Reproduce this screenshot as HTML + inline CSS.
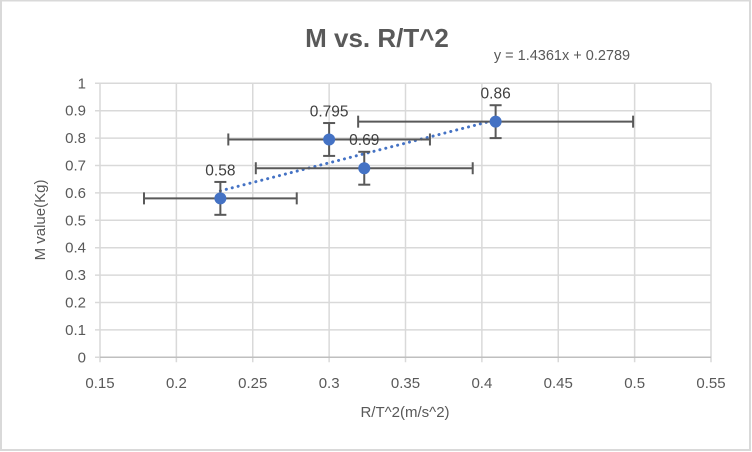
<!DOCTYPE html>
<html><head><meta charset="utf-8"><style>
body{margin:0;background:#fff}
svg{display:block;font-family:"Liberation Sans",sans-serif}
</style></head><body>
<svg id="chart" width="752" height="452" viewBox="0 0 752 452">
<rect x="1" y="0.5" width="749" height="449.5" fill="#fff" stroke="#d9d9d9" stroke-width="2"/>
<g id="grid"></g>
<g id="axes"></g>
<g id="marks"></g>
<text x="377" y="47" text-anchor="middle" font-size="26" font-weight="bold" fill="#595959">M vs. R/T^2</text>
<text x="562" y="60" text-anchor="middle" font-size="14.5" fill="#595959">y = 1.4361x + 0.2789</text>
<text transform="translate(45,220) rotate(-90)" text-anchor="middle" font-size="15" fill="#595959">M value(Kg)</text>
<text x="405" y="417" text-anchor="middle" font-size="15" fill="#595959">R/T^2(m/s^2)</text>
</svg>
<script>
const xVals=[0.2288,0.300,0.323,0.409];
const yVals=[0.58,0.795,0.69,0.86];
const xErr=[0.05,0.066,0.071,0.09];
const yErr=[0.06,0.06,0.06,0.06];
const labels=["0.58","0.795","0.69","0.86"];
const xTicks=[0.15,0.2,0.25,0.3,0.35,0.4,0.45,0.5,0.55];
const yTicks=[0,0.1,0.2,0.3,0.4,0.5,0.6,0.7,0.8,0.9,1];
const slope=1.4361, intercept=0.2789;
const X0=100,X1=711,Y0=357.3,Y1=83.3;
const sx=v=>X0+(v-0.15)/0.4*(X1-X0);
const sy=v=>Y0-v*(Y0-Y1);
const NS="http://www.w3.org/2000/svg";
function mk(parent,tag,attrs){const e=document.createElementNS(NS,tag);for(const k in attrs)e.setAttribute(k,attrs[k]);document.getElementById(parent).appendChild(e);return e;}
xTicks.forEach((t,i)=>{
 const l=mk('grid','line',{x1:sx(t),x2:sx(t),y1:Y1,y2:Y0+5,stroke:'#d9d9d9','stroke-width':1.5});
 
 
 const tx=mk('axes','text',{x:sx(t),y:388,'text-anchor':'middle','font-size':15,fill:'#595959'});
 tx.textContent=String(t);
 
 
});
yTicks.forEach(t=>{
 const l=mk('grid','line',{x1:X0-5,x2:X1,y1:sy(t),y2:sy(t),stroke:'#d9d9d9','stroke-width':1.5});
 
 
 const tx=mk('axes','text',{x:86,y:sy(t)+5,'text-anchor':'end','font-size':15,fill:'#595959'});
 tx.textContent=String(t);
 
 
});
const ax=mk('axes','line',{x1:X0,x2:X1,y1:Y0,y2:Y0,stroke:'#bfbfbf','stroke-width':1.5});


const tl=mk('marks','line',{x1:sx(xVals[0]),y1:sy(slope*xVals[0]+intercept),x2:sx(xVals[3]),y2:sy(slope*xVals[3]+intercept),stroke:'#4472c4','stroke-width':3,'stroke-dasharray':'0.1 6','stroke-linecap':'round'});


xVals.forEach((x,i)=>{
 const cx=sx(x),cy=sy(yVals[i]);
 const a=sx(x-xErr[i]),b=sx(x+xErr[i]);
 const t=sy(yVals[i]+yErr[i]),bt=sy(yVals[i]-yErr[i]);
 const g=mk('marks','g',{stroke:'#595959','stroke-width':2});
 
 
 [[a,cy,b,cy],[a,cy-6,a,cy+6],[b,cy-6,b,cy+6],[cx,t,cx,bt],[cx-6,t,cx+6,t],[cx-6,bt,cx+6,bt]].forEach(s=>{
  const l=document.createElementNS(NS,'line');
  l.setAttribute('x1',s[0]);l.setAttribute('y1',s[1]);l.setAttribute('x2',s[2]);l.setAttribute('y2',s[3]);
  g.appendChild(l);
 });
 const c=mk('marks','circle',{cx:cx,cy:cy,r:6,fill:'#4472c4'});
 
 
 const lb=mk('marks','text',{x:cx,y:cy-23,'text-anchor':'middle','font-size':15.5,fill:'#404040'});
 lb.textContent=labels[i];
 
 
});
</script>
</body></html>
